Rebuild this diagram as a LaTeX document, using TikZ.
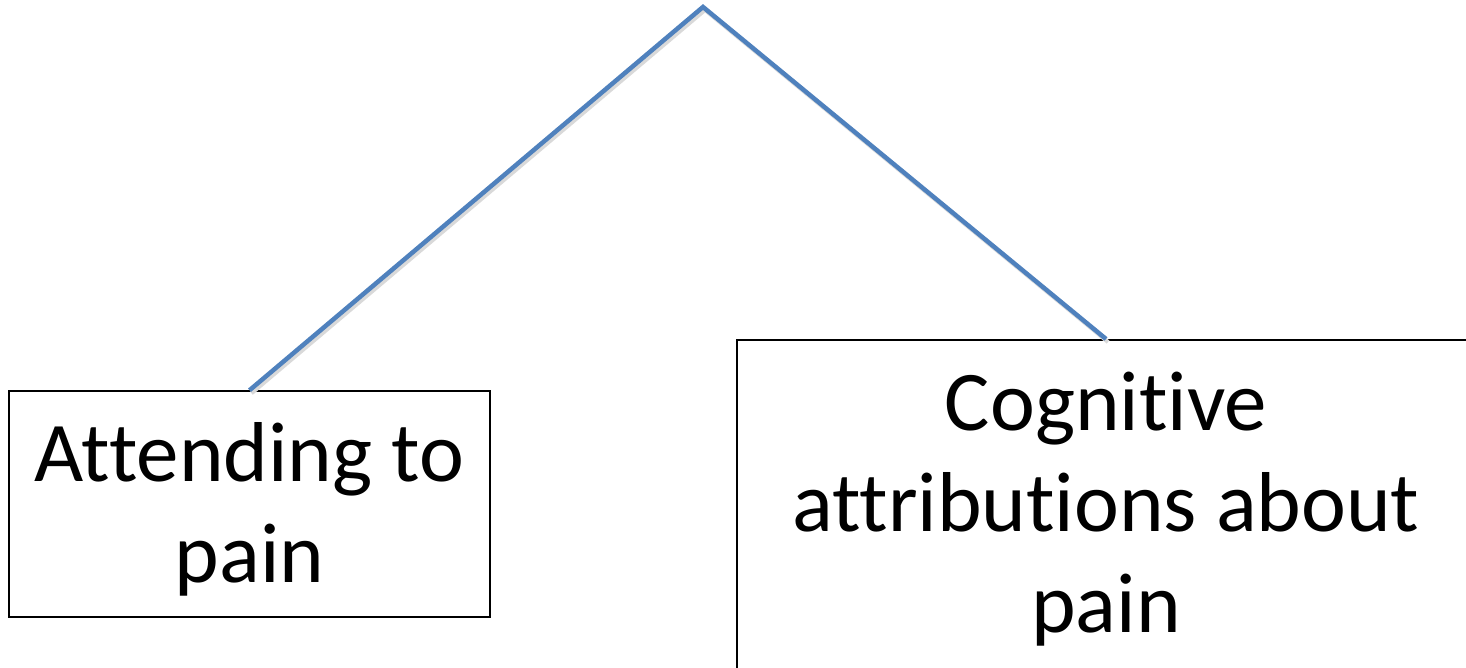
\documentclass[tikz,border=0pt]{standalone}
\usepackage{fontspec}
\setmainfont{Carlito}[Ligatures={NoCommon,NoRequired,NoContextual}]
\definecolor{linkblue}{HTML}{4F81BD}
\tikzset{
  boxnode/.style={draw=black, line width=1.5pt, inner sep=0pt},
  boxtext/.style={align=center, anchor=base, inner sep=0pt,
    font=\fontsize{85}{101}\selectfont},
  link/.style={draw=linkblue, line width=4.5pt},
  linkshadow/.style={draw=black!15, line width=4pt}
}
\begin{document}
\begin{tikzpicture}[x=1pt,y=-1pt]
\useasboundingbox (0,0) rectangle (1466,668);
\clip (0,0) rectangle (1466,668);
\fill[white] (0,0) rectangle (1466,668);
\node[boxnode, minimum width=481pt, minimum height=226pt] (L) at (249.5,504) {};
\node[boxtext] (Lt) at (249.5,582) {Attending to\\pain};
\node[boxnode, minimum width=738pt, minimum height=400pt, anchor=north] (R) at (1106,339) {};
\node[boxtext] (Rt) at (1106,632) {Cognitive\\attributions about\\pain};
\coordinate (peak) at (703,7);
\draw[linkshadow] ([shift={(2,3)}]L.north) -- ([shift={(2,3)}]peak) -- ([shift={(2,3)}]R.north);
\draw[link] (L.north) -- (peak) -- (R.north);
\end{tikzpicture}
\end{document}
